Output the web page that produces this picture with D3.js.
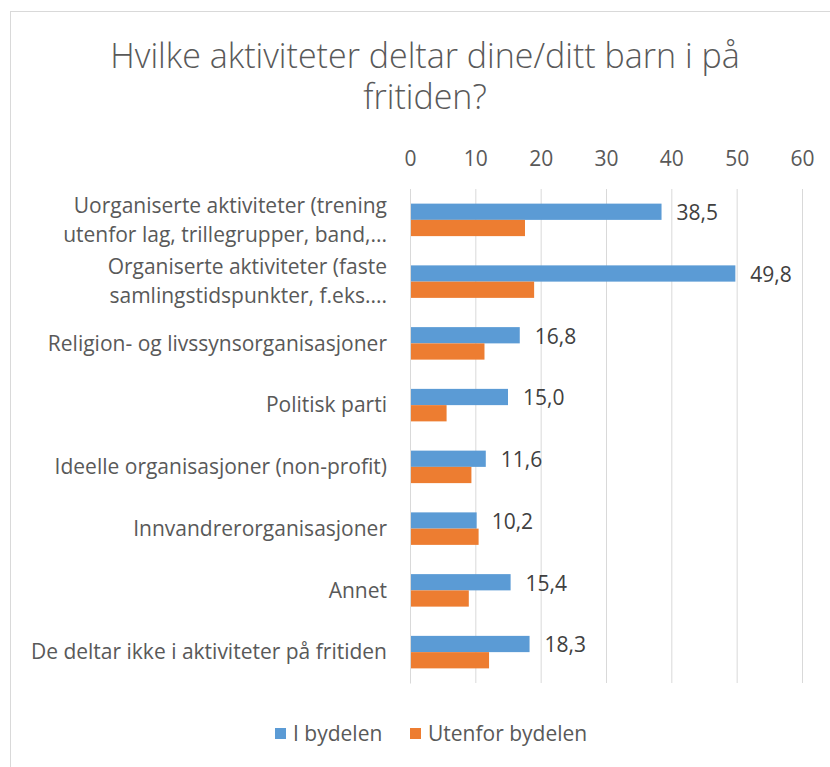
<!DOCTYPE html>
<html lang="no">
<head>
    <meta charset="UTF-8">
    <title>Hvilke aktiviteter</title>
    <style>
        body { margin: 0; background: #fff; }
        svg text { font-family: "Open Sans", Lato, sans-serif; fill: #595959; }
        .axis .domain { display: none; }
    </style>
</head>
<body>
    <svg width="830" height="767"></svg>
    <script src="https://d3js.org/d3.v7.min.js"></script>
    <script>
        // data
        var categories = [
            "Uorganiserte aktiviteter (trening\nutenfor lag, trillegrupper, band,...",
            "Organiserte aktiviteter (faste\nsamlingstidspunkter, f.eks....",
            "Religion- og livssynsorganisasjoner",
            "Politisk parti",
            "Ideelle organisasjoner (non-profit)",
            "Innvandrerorganisasjoner",
            "Annet",
            "De deltar ikke i aktiviteter på fritiden"
        ];
        var seriesNames = ["I bydelen", "Utenfor bydelen"];
        var iBydelen = [38.5, 49.8, 16.8, 15.0, 11.6, 10.2, 15.4, 18.3];
        var utenforBydelen = [17.6, 19.0, 11.4, 5.6, 9.4, 10.5, 9.0, 12.1];
        var xTicks = [0, 10, 20, 30, 40, 50, 60];

        var colors = ["#5B9BD5", "#ED7D31"];
        var svg = d3.select("svg");

        // chart border
        svg.append("rect")
            .attr("x", 10.5).attr("y", 11.5)
            .attr("width", 830).attr("height", 770)
            .attr("fill", "#fff")
            .attr("stroke", "#D9D9D9");

        var data = categories.map(function(c, i) {
            return {cat: c, values: [iBydelen[i], utenforBydelen[i]]};
        });

        var x = d3.scaleLinear().domain([0, 60]).range([410, 802]);
        var y0 = d3.scaleBand().domain(categories).range([189, 683]).padding(0);
        var y1 = d3.scaleBand().domain(seriesNames).range([0, y0.bandwidth()])
            .paddingInner(0).paddingOuter(0.9);

        // title
        var title = svg.append("text")
            .attr("text-anchor", "middle")
            .attr("font-size", 34)
            .attr("font-weight", 300);
        title.append("tspan").attr("x", 425).attr("y", 68).text("Hvilke aktiviteter deltar dine/ditt barn i på");
        title.append("tspan").attr("x", 425).attr("y", 109).text("fritiden?");

        // gridlines
        svg.append("g")
            .attr("class", "axis grid")
            .attr("transform", "translate(0,189)")
            .call(d3.axisTop(x).tickValues(xTicks).tickSize(-(683 - 189)).tickFormat(""))
            .selectAll("line").attr("stroke", "#D9D9D9");

        // tick labels
        var xa = svg.append("g")
            .attr("class", "axis")
            .attr("transform", "translate(0,166)")
            .call(d3.axisTop(x).tickValues(xTicks).tickSize(0).tickPadding(0));
        xa.selectAll("text").attr("font-size", 21).attr("fill", "#595959")
            .style("font-family", "'Open Sans', sans-serif");

        // bars
        var groups = svg.append("g")
            .selectAll("g")
            .data(data)
            .enter().append("g")
            .attr("transform", function(d) { return "translate(0," + y0(d.cat) + ")"; });

        groups.selectAll("rect")
            .data(function(d) { return d.values.map(function(v, k) { return {key: seriesNames[k], value: v, k: k}; }); })
            .enter().append("rect")
            .attr("x", x(0))
            .attr("y", function(d) { return y1(d.key); })
            .attr("width", function(d) { return x(d.value) - x(0); })
            .attr("height", y1.bandwidth())
            .attr("fill", function(d) { return colors[d.k]; });

        // value labels for "I bydelen"
        groups.append("text")
            .attr("x", function(d) { return x(d.values[0]) + 15; })
            .attr("y", function(d) { return y1(seriesNames[0]) + y1.bandwidth() / 2 + 1; })
            .attr("dy", "0.35em")
            .attr("font-size", 21)
            .style("fill", "#404040")
            .text(function(d) { return d.values[0].toFixed(1).replace(".", ","); });

        // vertical axis line
        svg.append("g")
            .attr("transform", "translate(" + x(0) + ",0)")
            .call(d3.axisLeft(y0).tickSize(0).tickFormat(""))
            .select(".domain").attr("stroke", "#D9D9D9");

        // category labels
        groups.each(function(d) {
            var lines = d.cat.split("\n");
            var t = d3.select(this).append("text")
                .attr("text-anchor", "end")
                .attr("font-size", 21);
            var mid = y0.bandwidth() / 2;
            lines.forEach(function(line, i) {
                t.append("tspan")
                    .attr("x", 387)
                    .attr("y", mid + (i - (lines.length - 1) / 2) * 29)
                    .attr("dy", "0.35em")
                    .text(line);
            });
        });

        // legend
        var legend = svg.append("g")
            .selectAll("g")
            .data(seriesNames)
            .enter().append("g")
            .attr("transform", function(d, i) { return "translate(" + [275, 410][i] + ",734)"; });

        legend.append("rect")
            .attr("y", -6)
            .attr("width", 11).attr("height", 11)
            .attr("fill", function(d, i) { return colors[i]; });

        legend.append("text")
            .attr("x", 18)
            .attr("dy", "0.35em")
            .attr("font-size", 21)
            .text(function(d) { return d; });
    </script>
</body>
</html>
